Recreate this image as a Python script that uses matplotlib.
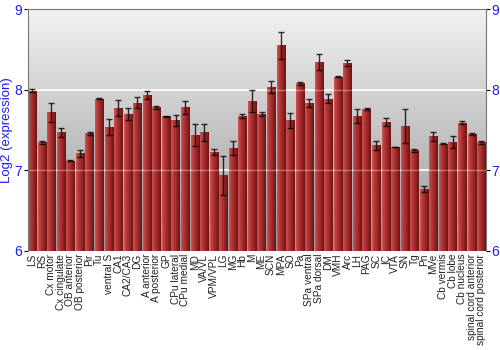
import numpy as np
import matplotlib.pyplot as plt
from matplotlib.colors import LinearSegmentedColormap

plt.rcParams['font.family'] = ['Liberation Sans', 'DejaVu Sans']

regions = ['LS', 'RS', 'Cx motor', 'Cx cingulate', 'OB anterior', 'OB posterior',
           'Pir', 'Tu', 'ventral S', 'CA1', 'CA2/CA3', 'DG', 'A anterior',
           'A posterior', 'GP', 'CPu lateral', 'CPu medial', 'MD', 'VA/VL',
           'VPM/VPL', 'LG', 'MG', 'Hb', 'M', 'ME', 'SCN', 'MPA', 'SO', 'Pa',
           'SPa ventral', 'SPa dorsal', 'DM', 'VMH', 'Arc', 'LH', 'PAG', 'SC',
           'IC', 'VTA', 'SN', 'Tg', 'Pn', 'MVe', 'Cb vermis', 'Cb lobe',
           'Cb nucleus', 'spinal cord anterior', 'spinal cord posterior']
expr = [7.99, 7.35, 7.72, 7.47, 7.12, 7.21, 7.46, 7.89, 7.54, 7.77, 7.70, 7.84,
        7.93, 7.78, 7.67, 7.62, 7.78, 7.44, 7.47, 7.23, 6.94, 7.28, 7.67, 7.86,
        7.70, 8.03, 8.55, 7.62, 8.08, 7.83, 8.34, 7.89, 8.16, 8.33, 7.67, 7.76,
        7.31, 7.60, 7.29, 7.55, 7.25, 6.77, 7.42, 7.33, 7.35, 7.59, 7.45, 7.35]
err = [0.02, 0.02, 0.12, 0.06, 0.005, 0.045, 0.02, 0.005, 0.10, 0.10, 0.075, 0.07,
       0.05, 0.015, 0.01, 0.07, 0.08, 0.14, 0.11, 0.035, 0.24, 0.085, 0.025, 0.14,
       0.025, 0.075, 0.17, 0.09, 0.02, 0.05, 0.10, 0.055, 0.005, 0.04, 0.085, 0.01,
       0.06, 0.055, 0.005, 0.21, 0.02, 0.035, 0.05, 0.005, 0.075, 0.02, 0.015, 0.02]

blue = '#1a1aff'
fig = plt.figure(figsize=(5, 3.5), dpi=100)
ax = fig.add_axes([0.055, 0.283, 0.917, 0.691])

n = len(regions)
x = np.arange(n)
ymin, ymax = 6, 9
ax.set_xlim(-0.5, n - 0.5)
ax.set_ylim(ymin, ymax)

# background: vertical grey gradient
bg = LinearSegmentedColormap.from_list('bg', ['#9a9a9a', '#c4c4c4', '#f2f2f2'])
grad = np.linspace(0, 1, 256).reshape(-1, 1)
ax.imshow(grad, cmap=bg, origin='lower', aspect='auto', extent=(-0.5, n - 0.5, ymin, ymax), zorder=0)
for g in (7, 8):
    ax.axhline(g, color='white', lw=1.3, alpha=0.9, zorder=1)

# bars with horizontal shading
bar_cm = LinearSegmentedColormap.from_list('bar', ['#cc5555', '#b23535', '#952424', '#6a1212'])
hgrad = np.linspace(0, 1, 64).reshape(1, -1)
w = 0.86
bars = ax.bar(x, np.array(expr) - ymin, bottom=ymin, width=w, color='#a83030', zorder=2)
for b in bars:
    im = ax.imshow(hgrad, cmap=bar_cm, aspect='auto', zorder=2.1,
                   extent=(b.get_x(), b.get_x() + w, ymin, b.get_y() + b.get_height()))
    im.set_clip_path(b)
ax.errorbar(x, expr, yerr=err, fmt='none', ecolor='black', elinewidth=1, capsize=2,
            capthick=1, alpha=0.8, zorder=3)
for g in (7, 8):
    ax.axhline(g, color='white', lw=1, alpha=0.35, zorder=2.5)

ax.set_xticks(x)
ax.set_xticklabels(regions, rotation=90, fontsize=7.3, color='#222222')
ax.tick_params(axis='x', length=0, pad=2)
ax.set_yticks([6, 7, 8, 9])
ax.tick_params(axis='y', labelsize=10, labelcolor=blue, length=3, pad=1,
               labelright=True, right=True)
ax.set_ylabel('Log2 (expression)', color=blue, fontsize=9.5, labelpad=1)
for s in ('left', 'right', 'top'):
    ax.spines[s].set_color('#777777')
ax.spines['bottom'].set_visible(False)

fig.savefig('out.png', dpi=100)
